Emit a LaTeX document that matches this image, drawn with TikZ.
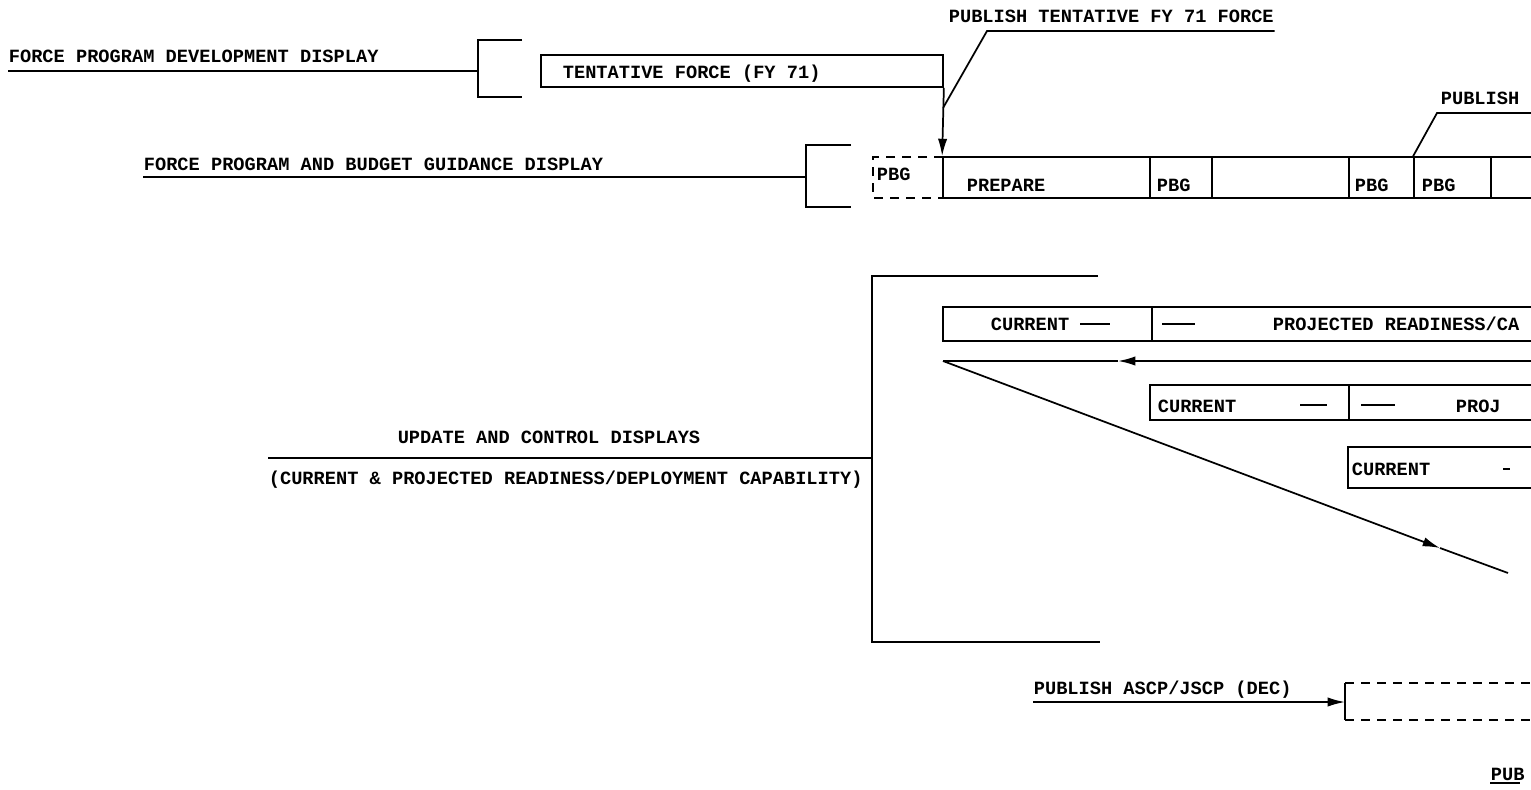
\documentclass[tikz,border=0pt]{standalone}
\usepackage{fontspec}
\setmonofont{Liberation Mono}
\usetikzlibrary{arrows.meta,positioning,fit}

\begin{document}
\begin{tikzpicture}[
    x=0.75pt, y=-0.75pt,
    >={Latex[length=13pt,width=7pt]},
    line width=1.3pt,
    lbl/.style={anchor=base west, inner sep=0pt, font=\ttfamily\bfseries\fontsize{14}{16}\selectfont},
    cell/.style={draw, inner sep=0pt, line width=1.3pt},
    dline/.style={dashed, dash pattern=on 7pt off 5pt},
    arr/.style={->, line width=1.3pt},
    tick/.style={line width=1.6pt}
]
    \useasboundingbox (0,0) rectangle (1531,789);
    \clip (0,0) rectangle (1531,789);

    % force program development
    \node[lbl] (fpdd) at (8,62) {FORCE PROGRAM DEVELOPMENT DISPLAY};
    \coordinate (brkA) at (478,71);
    \draw (fpdd.south west |- brkA) -- (brkA);
    \draw (522,40) -- (478,40) -- (478,97) -- (522,97);
    \node[cell, fit={(541,55)(943,87)}] (tentbox) {};
    \node[lbl] (tent) at (562,78) {TENTATIVE FORCE (FY 71)};

    % force program and budget guidance
    \node[lbl] (fpbg) at (143,170) {FORCE PROGRAM AND BUDGET GUIDANCE DISPLAY};
    \coordinate (brkB) at (806,177);
    \draw (fpbg.south west |- brkB) -- (brkB);
    \draw (851,145) -- (806,145) -- (806,207) -- (851,207);

    \draw[dline] (943,157) -- (873,157) -- (873,198) -- (943,198);
    \node[lbl] (pbg0) at (876,180) {PBG};
    \node[cell, fit={(943,157)(1150,198)}] (prep) {};
    \node[cell, fit={(1150,157)(1212,198)}] (pbgA) {};
    \node[cell, fit={(1212,157)(1349,198)}] (gap) {};
    \node[cell, fit={(1349,157)(1414,198)}] (pbgB) {};
    \node[cell, fit={(1414,157)(1491,198)}] (pbgC) {};
    \node[cell, fit={(1491,157)(1570,198)}] (nextcell) {};
    \node[lbl] at (966,191) {PREPARE};
    \node[lbl] at (1156,191) {PBG};
    \node[lbl] at (1354,191) {PBG};
    \node[lbl] at (1421,191) {PBG};

    \draw[arr] (tentbox.south east) -- (prep.north west);

    % publish labels
    \node[lbl] (pubtent) at (948,22) {PUBLISH TENTATIVE FY 71 FORCE};
    \coordinate (leadA) at (943,108);
    \coordinate (knee1) at (987,31);
    \draw (leadA) -- (knee1) -- (pubtent.south east |- knee1);
    \node[lbl] (pubB) at (1440,104) {PUBLISH};
    \coordinate (knee2) at (1437,113);
    \coordinate (edge2) at (1531,113);
    \draw (pbgC.north west) -- (knee2) -- (edge2);

    % update and control displays
    \node[lbl, anchor=base] (upd) at (549,443) {UPDATE AND CONTROL DISPLAYS};
    \node[lbl] (capab) at (268,484) {(CURRENT \& PROJECTED READINESS/DEPLOYMENT CAPABILITY)};
    \coordinate (brkC) at (872,458);
    \draw (capab.west |- brkC) -- (brkC);
    \draw (1098,276) -- (872,276) -- (872,642) -- (1100,642);

    \node[cell, fit={(943,307)(1152,341)}] (curA) {};
    \node[cell, fit={(1152,307)(1570,341)}] (projA) {};
    \node[lbl] at (990,330) {CURRENT};
    \draw[tick] (1080,324) -- (1110,324);
    \draw[tick] (1162,324) -- (1195,324);
    \node[lbl] at (1272,330) {PROJECTED READINESS/CA};

    \coordinate (retR) at (1531,361);
    \coordinate (retM) at (1118,361);
    \coordinate (retL) at (943,361);
    \draw[arr] (retR) -- (retM);
    \draw (retM) -- (retL);
    \coordinate (diagM) at (1440,548);
    \coordinate (diagE) at (1508,573);
    \draw[arr] (retL) -- (diagM);
    \draw (diagM) -- (diagE);

    \node[cell, fit={(1150,385)(1349,420)}] (curB) {};
    \node[cell, fit={(1349,385)(1570,420)}] (projB) {};
    \node[lbl] at (1157,412) {CURRENT};
    \draw[tick] (1300,405) -- (1327,405);
    \draw[tick] (1361,405) -- (1395,405);
    \node[lbl] at (1455,412) {PROJ};

    \node[cell, fit={(1348,447)(1570,488)}] (curC) {};
    \node[lbl] at (1351,475) {CURRENT};
    \draw[tick] (1503,469) -- (1510,469);

    % publish ascp/jscp
    \node[lbl] (pubascp) at (1033,694) {PUBLISH ASCP/JSCP (DEC)};
    \coordinate (brkD) at (1345,702);
    \draw[arr] (pubascp.south west |- brkD) -- (brkD);
    \draw (1345,683) -- (1345,720);
    \draw[dline] (1345,683) -- (1531,683);
    \draw[dline] (1345,720) -- (1531,720);

    \node[lbl] (pubC) at (1490,780) {PUB};
    \draw (pubC.south west) ++(0,2) -- ++(30,0);
\end{tikzpicture}
\end{document}
